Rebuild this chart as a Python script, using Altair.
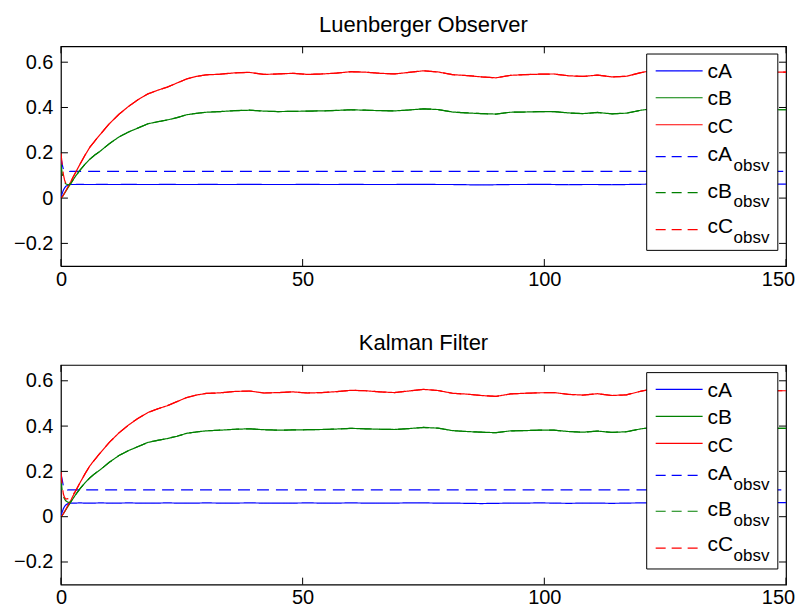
import altair as alt
import pandas as pd

FONT = "Liberation Sans"

# ---------------- data ----------------
T = [0, 0.25, 0.5, 0.75, 1, 1.5, 2, 2.5, 3, 4, 5, 6, 7, 8, 10, 12, 14, 16, 18, 20,
     22, 24, 26, 28, 30, 33, 36, 39, 42, 45, 48, 51, 54, 57, 60, 63, 66, 69, 72, 75,
     78, 81, 84, 87, 90, 93, 96, 99, 102, 105, 108, 111, 114, 117, 120, 123, 126, 129,
     132, 135, 138, 141, 144, 147, 150]

CA = [0, 0.02, 0.035, 0.045, 0.052, 0.058, 0.06, 0.06, 0.06, 0.061, 0.06, 0.06, 0.06,
      0.061, 0.06, 0.06, 0.061, 0.06, 0.06, 0.06, 0.061, 0.06, 0.06, 0.06, 0.061, 0.06,
      0.06, 0.061, 0.06, 0.06, 0.06, 0.061, 0.06, 0.06, 0.061, 0.06, 0.06, 0.06, 0.061,
      0.061, 0.06, 0.06, 0.059, 0.058, 0.059, 0.06, 0.06, 0.061, 0.06, 0.059, 0.06,
      0.06, 0.059, 0.06, 0.061, 0.062, 0.062, 0.062, 0.062, 0.062, 0.062, 0.062, 0.062,
      0.062, 0.062]

CB = [0, 0.005, 0.013, 0.022, 0.03, 0.047, 0.063, 0.08, 0.096, 0.125, 0.15, 0.172,
      0.19, 0.205, 0.24, 0.27, 0.292, 0.31, 0.328, 0.337, 0.345, 0.355, 0.368, 0.374,
      0.379, 0.382, 0.386, 0.388, 0.384, 0.382, 0.383, 0.384, 0.385, 0.387, 0.39, 0.388,
      0.386, 0.385, 0.389, 0.394, 0.391, 0.38, 0.376, 0.373, 0.371, 0.379, 0.38, 0.382,
      0.382, 0.376, 0.373, 0.378, 0.372, 0.375, 0.388, 0.396, 0.398, 0.396, 0.394,
      0.392, 0.39, 0.39, 0.39, 0.39, 0.39]

CC = [0, 0.005, 0.013, 0.022, 0.032, 0.052, 0.07, 0.092, 0.112, 0.152, 0.19, 0.225,
      0.252, 0.278, 0.328, 0.37, 0.405, 0.435, 0.46, 0.476, 0.49, 0.508, 0.526, 0.537,
      0.544, 0.547, 0.553, 0.555, 0.546, 0.548, 0.551, 0.546, 0.548, 0.552, 0.558,
      0.556, 0.551, 0.548, 0.555, 0.562, 0.557, 0.545, 0.541, 0.535, 0.531, 0.542,
      0.545, 0.547, 0.548, 0.54, 0.537, 0.543, 0.535, 0.538, 0.554, 0.566, 0.568,
      0.565, 0.562, 0.56, 0.557, 0.555, 0.556, 0.556, 0.556]

CA_OBSV_LEVEL = 0.118

# early transients of the estimates (time, value); afterwards they follow the plant
LU_T = [0, 0.25, 0.5, 0.75, 1, 1.5]
LU_CA = [0.18, 0.15, 0.128, 0.12, 0.117, 0.117]
LU_CB = [0.15, 0.11, 0.085, 0.07, 0.063, 0.058]
LU_CC = [0.2, 0.15, 0.105, 0.08, 0.065, 0.062]

KF_T = [0, 0.25, 0.5, 0.75, 1, 1.5, 2, 2.5]
KF_CA = [0.19, 0.165, 0.135, 0.122, 0.117, 0.118, 0.118, 0.118]
KF_CB = [0.17, 0.115, 0.09, 0.078, 0.07, 0.063, 0.065, 0.08]
KF_CC = [0.2, 0.14, 0.1, 0.085, 0.078, 0.08, 0.088, 0.098]

SERIES = ["cA", "cB", "cC", "cA_obsv", "cB_obsv", "cC_obsv"]
COLORS = ["#0000ff", "#008000", "#ff0000", "#0000ff", "#008000", "#ff0000"]
XTICKS = [0, 50, 100, 150]
YTICKS = [-0.2, 0, 0.2, 0.4, 0.6]

W, H = 726, 220
XDOM = [0, 150]
YDOM = [-0.3, 0.67]


def follow(tr_t, tr_v, base):
    vals = []
    for t, b in zip(T, base):
        if t in tr_t:
            vals.append(tr_v[tr_t.index(t)])
        else:
            vals.append(b)
    return vals


def panel_df(tt, a, b, c):
    rows = []
    const_a = [CA_OBSV_LEVEL] * len(T)
    series_vals = [CA, CB, CC, follow(tt, a, const_a), follow(tt, b, CB), follow(tt, c, CC)]
    for name, vals in zip(SERIES, series_vals):
        for t, v in zip(T, vals):
            rows.append({"t": t, "v": v, "s": name})
    return pd.DataFrame(rows)


one = pd.DataFrame({"k": [0]})

AXCOMMON = dict(title=None, domain=False, ticks=False, grid=False, labelFont=FONT,
                labelFontSize=20, labelColor="black", labelFlush=False,
                labelOverlap=False)
xenc = alt.X("t:Q", scale=alt.Scale(domain=XDOM, nice=False, zero=False),
             axis=alt.Axis(values=XTICKS, labelPadding=3, minExtent=24, maxExtent=24,
                           labelOffset={"condition": {"test": "datum.value == 150",
                                                      "value": -8}, "value": 0},
                           **AXCOMMON))
yenc = alt.Y("v:Q", scale=alt.Scale(domain=YDOM, nice=False, zero=False),
             axis=alt.Axis(values=YTICKS, format="~g", labelPadding=8,
                           minExtent=48, maxExtent=48, **AXCOMMON))

# legend layout (pixels inside the plot area)
LEG_BOX = (586.5, 717.8, 7.7, 204.3)
LEG_LINE_X = (595.5, 642.5)
LEG_TEXT_X = 647.5
LEG_SUB_X = 673.5
LEG_LINE_Y = [24.5, 51.5, 78.5, 110.5, 146.5, 183.5]
LEG_TEXT_Y = [31.7, 59, 86.7, 115, 151.7, 186.7]
LEG_SUB_Y = [None, None, None, 125, 161, 196.7]
DASH = [12, 7]


def make_panel(title, df):
    layers = []
    for name, col in zip(SERIES, COLORS):
        dash = DASH if name.endswith("obsv") else [1, 0]
        layers.append(
            alt.Chart(df).transform_filter(alt.datum.s == name)
            .mark_line(color=col, strokeWidth=1.2, strokeDash=dash, clip=True)
            .encode(x=xenc, y=yenc)
        )
    xt = pd.DataFrame({"t": XTICKS})
    yt = pd.DataFrame({"v": YTICKS})
    layers.append(alt.Chart(xt).mark_rule(color="black", strokeWidth=1).encode(
        x=xenc, y=alt.value(H), y2=alt.value(H - 7)))
    layers.append(alt.Chart(xt).mark_rule(color="black", strokeWidth=1).encode(
        x=xenc, y=alt.value(0), y2=alt.value(7)))
    layers.append(alt.Chart(yt).mark_rule(color="black", strokeWidth=1).encode(
        y=yenc, x=alt.value(0), x2=alt.value(7)))
    layers.append(alt.Chart(yt).mark_rule(color="black", strokeWidth=1).encode(
        y=yenc, x=alt.value(W - 7), x2=alt.value(W)))
    # legend
    x0, x1, y0, y1 = LEG_BOX
    layers.append(alt.Chart(one).mark_rect(fill="white", stroke="black", strokeWidth=1).encode(
        x=alt.value(x0), x2=alt.value(x1), y=alt.value(y0), y2=alt.value(y1)))
    for i, (name, col) in enumerate(zip(SERIES, COLORS)):
        dash = [10, 6] if name.endswith("obsv") else [1, 0]
        layers.append(alt.Chart(one).mark_rule(color=col, strokeWidth=1.2, strokeDash=dash).encode(
            x=alt.value(LEG_LINE_X[0]), x2=alt.value(LEG_LINE_X[1]), y=alt.value(LEG_LINE_Y[i])))
        main = name.split("_")[0]
        layers.append(alt.Chart(one).mark_text(
            text=main, align="left", baseline="alphabetic", fontSize=21, font=FONT,
            color="black").encode(x=alt.value(LEG_TEXT_X), y=alt.value(LEG_TEXT_Y[i])))
        if "_" in name:
            layers.append(alt.Chart(one).mark_text(
                text=name.split("_")[1], align="left", baseline="alphabetic", fontSize=17,
                font=FONT, color="black").encode(x=alt.value(LEG_SUB_X), y=alt.value(LEG_SUB_Y[i])))
    return alt.layer(*layers).properties(
        width=W, height=H,
        title=alt.TitleParams(title, fontSize=22, font=FONT, fontWeight="normal",
                              color="black", offset=9, anchor="middle"))


top = make_panel("Luenberger Observer", panel_df(LU_T, LU_CA, LU_CB, LU_CC))
bottom = make_panel("Kalman Filter", panel_df(KF_T, KF_CA, KF_CB, KF_CC))

chart = alt.vconcat(top, bottom, spacing=40).properties(
    padding={"left": 4, "top": 4, "right": 0, "bottom": 0}
).configure(background="white").configure_view(stroke="black", strokeWidth=1.2)

chart.save("out.html", embed_options={"renderer": "svg", "actions": False})
